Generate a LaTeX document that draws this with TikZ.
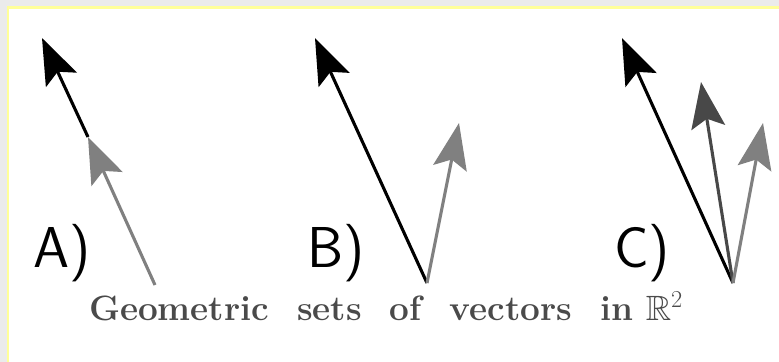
\documentclass[tikz,border=0pt]{standalone}
\usepackage{fontspec}
\usepackage{amssymb}
\usetikzlibrary{arrows.meta}
\definecolor{pagegray}{HTML}{EBEBEB}
\definecolor{lineyel}{HTML}{FFFF99}
\definecolor{vecgray}{HTML}{808080}
\definecolor{vecdark}{HTML}{484848}
\definecolor{capgray}{HTML}{4A4A4A}
\newcommand{\wgap}{\hspace{0.8em}}

\begin{document}
\begin{tikzpicture}[x=0.025cm,y=-0.025cm,>={Stealth[length=1.15cm,width=0.85cm,inset=0.22cm]},
  vec/.style={->,line width=2.2pt},
  lbl/.style={anchor=base west,inner sep=0pt,font=\sffamily\fontsize{41}{45}\selectfont},
  capt/.style={anchor=base,inner sep=0pt,text=capgray,font=\bfseries\fontsize{25}{29}\selectfont}]
\useasboundingbox (0,0) rectangle (779,362);
\fill[pagegray] (0,0) rectangle (779,362);
\fill[white] (8,8) rectangle (779,362);
\draw[lineyel,line width=1.5pt] (8,362) -- (8,7.5) -- (779,7.5);
% A
\coordinate (a0) at (155,285);
\coordinate (a1) at (88,137);
\coordinate (a2) at (42,38);
\draw[vec] (a1) -- (a2);
\draw[vec,vecgray] (a0) -- (a1);
% B
\coordinate (b0) at (427,283);
\coordinate (bk) at (315,38);
\coordinate (bg) at (459,123);
\draw[vec] (b0) -- (bk);
\draw[vec,vecgray] (b0) -- (bg);
% C
\coordinate (c0) at (733,283);
\coordinate (ck) at (622,38);
\coordinate (cd) at (701,82);
\coordinate (cg) at (763,123);
\draw[vec] (c0) -- (ck);
\draw[vec,vecdark] (c0) -- (cd);
\draw[vec,vecgray] (c0) -- (cg);
\node[lbl] (la) at (33,267) {A)};
\node[lbl] (lb) at (307,267) {B)};
\node[lbl] (lc) at (614,267) {C)};
\node[capt] (cap) at (386,320) {Geometric\wgap sets\wgap of\wgap vectors\wgap in\hspace{0.35em}$\mathbb{R}^2$};
\end{tikzpicture}
\end{document}
